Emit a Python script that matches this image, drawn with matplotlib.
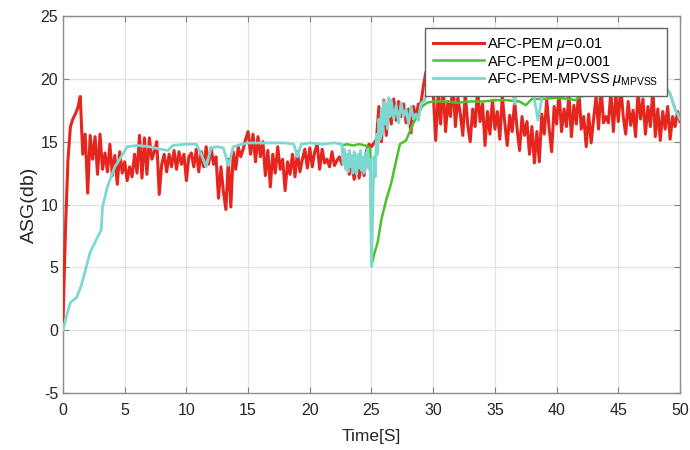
import numpy as np
import matplotlib
matplotlib.use("Agg")
import matplotlib.pyplot as plt

plt.rcParams['font.family'] = ['Liberation Sans', 'DejaVu Sans']
plt.rcParams['mathtext.fontset'] = 'custom'
plt.rcParams['mathtext.it'] = 'Liberation Sans:italic'
plt.rcParams['mathtext.rm'] = 'Liberation Sans'
plt.rcParams['axes.unicode_minus'] = False

# AFC-PEM mu=0.01, sampled every 0.2 s (5 values per second)
red_step = 0.2
red_asg = [
    0.7, 8.0, 13.5, 16.2, 16.8,
    17.2, 17.7, 18.6, 14.0, 15.6,
    10.9, 15.5, 13.6, 15.4, 12.4,
    15.6, 12.8, 14.1, 12.6, 14.8,
    12.3, 13.9, 11.6, 14.2, 12.5,
    13.4, 11.9, 13.0, 12.2, 14.0,
    12.5, 15.5, 12.1, 15.3, 12.4,
    15.3, 13.6, 14.2, 15.0, 10.8,
    13.2, 14.0, 12.6, 14.0, 13.0,
    14.3, 12.8, 14.2, 13.2, 14.0,
    11.9, 13.8, 14.1, 13.0, 14.4,
    12.6, 14.2, 13.0, 14.6, 13.2,
    14.5, 13.2, 13.8, 10.5, 13.0,
    11.0, 9.6, 13.6, 9.8, 14.2,
    12.8, 14.6, 13.8, 14.4, 15.2,
    15.8, 14.0, 15.6, 13.4, 15.4,
    13.8, 15.0, 12.3, 14.3, 11.4,
    14.0, 12.5, 14.6, 12.8, 13.6,
    11.1, 13.4, 12.4, 14.0, 12.2,
    14.2, 12.6, 13.6, 14.4, 12.9,
    14.5, 13.0, 14.2, 14.8, 12.8,
    14.4, 13.3, 13.6, 13.0, 14.2,
    13.1, 13.5, 13.8, 13.2, 13.6,
    13.5, 12.4, 13.2, 12.0, 13.6,
    12.1, 13.4, 12.3, 14.3, 14.8,
    14.6, 14.9, 15.2, 17.8, 15.0,
    18.3, 15.5, 17.9, 16.4, 18.4,
    16.7, 18.2, 17.0, 18.0, 16.5,
    17.6, 15.7, 17.8, 16.9, 18.0,
    18.0, 19.4, 20.5, 21.0, 19.5,
    19.0, 15.1, 18.8, 16.4, 19.6,
    15.8, 18.2, 17.0, 19.8, 16.2,
    18.5, 17.2, 15.5, 18.9, 16.3,
    15.0, 17.6, 16.2, 19.2, 16.6,
    18.0, 14.7, 17.4, 15.6, 18.3,
    16.0, 17.4, 15.2, 18.6, 16.5,
    14.7, 17.1, 15.8, 18.2, 16.0,
    14.3, 17.0, 15.5, 16.6, 14.0,
    16.2, 13.3, 15.8, 13.4, 17.2,
    15.6, 18.4, 16.0, 14.2, 17.8,
    16.4, 19.0, 15.8, 17.6, 16.2,
    18.8, 15.4, 17.9, 16.4, 19.2,
    16.0, 17.0, 14.6, 17.2, 14.9,
    16.8, 18.6, 16.0, 19.4, 16.5,
    17.0, 16.5, 19.0, 15.8, 18.8,
    16.6, 19.4, 17.0, 15.6, 18.2,
    16.3, 17.5, 15.4, 19.0, 16.8,
    18.4, 15.6, 17.8, 16.2, 19.2,
    15.4, 17.6, 15.1, 17.4, 16.0,
    17.8, 15.2, 17.0, 16.2, 17.4,
    16.6,
]
red_t = np.arange(len(red_asg)) * red_step

# AFC-PEM mu=0.001
green_t = [22.6, 23.0, 23.5, 24.0, 24.5, 24.9, 25.0, 25.2, 25.5, 25.8, 26.0, 26.2,
           26.6, 27.0, 27.3, 27.8, 28.1, 28.4, 28.7, 29.1, 29.5, 30.0, 31.0, 32.0,
           33.0, 34.0, 35.0, 36.0, 37.0, 37.5, 38.0, 39.0, 40.0, 41.0, 41.5, 42.0,
           43.0, 44.0, 45.0, 46.0, 47.0, 48.0, 48.7, 49.2, 49.6, 50.0]
green_asg = [14.7, 14.8, 14.7, 14.8, 14.7, 14.5, 5.1, 6.0, 7.0, 8.8, 9.6, 10.4,
             11.7, 13.5, 14.8, 15.1, 15.8, 16.5, 17.0, 17.8, 18.1, 18.2, 18.2, 18.1,
             18.2, 18.2, 18.3, 18.3, 18.2, 17.9, 18.4, 18.4, 18.5, 18.4, 18.3, 18.6,
             18.9, 19.4, 19.5, 19.6, 19.5, 19.6, 19.5, 18.8, 17.6, 16.8]

# AFC-PEM-MPVSS
cyan_t = [0.0, 0.3, 0.6, 1.1, 1.5, 2.2, 2.6, 3.1, 3.2, 3.6, 4.2, 4.6, 5.2, 6.0,
          7.0, 7.9, 8.5, 8.9, 10.0, 10.8, 11.2, 11.6, 12.0, 12.5, 13.0, 13.4,
          13.8, 14.5, 15.0, 16.0, 17.0, 18.0, 18.7, 19.0, 19.3, 20.0, 21.0, 22.0,
          22.6, 22.7, 22.8, 22.9, 23.0, 23.1, 23.2, 23.3, 23.4, 23.5, 23.6, 23.7,
          23.8, 23.9, 24.0, 24.1, 24.2, 24.3, 24.4, 24.5, 24.6, 24.7, 24.8, 24.9,
          25.0, 25.1, 25.2, 25.3, 25.4, 25.5, 25.6, 25.7, 25.8, 25.9, 26.0, 26.1,
          26.2, 26.3, 26.4, 26.5, 26.6, 26.8, 27.0, 27.2, 27.4, 27.6, 27.8, 28.0,
          28.2, 28.4, 28.6, 28.8, 29.0, 29.3, 29.6, 30.0, 31.0, 32.0, 33.0, 34.0,
          35.0, 36.0, 36.4, 36.6, 36.8, 37.5, 38.0, 38.5, 38.8, 39.2, 40.0, 41.0,
          42.0, 43.0, 44.0, 45.0, 46.0, 47.0, 48.0, 48.7, 49.2, 49.6, 50.0]
cyan_asg = [0.0, 1.2, 2.2, 2.6, 3.6, 6.2, 7.0, 8.0, 9.8, 11.4, 13.0, 13.6, 14.6, 14.7,
            14.6, 14.4, 14.3, 14.7, 14.8, 14.8, 14.0, 13.0, 14.5, 14.6, 14.5, 13.1,
            14.6, 14.8, 14.9, 14.9, 14.9, 14.9, 14.8, 13.8, 14.8, 14.9, 14.8, 14.9,
            14.8, 13.2, 14.4, 12.8, 14.0, 12.6, 14.3, 13.0, 13.9, 12.5, 14.2, 13.1,
            12.4, 14.0, 12.9, 14.3, 12.7, 13.8, 12.5, 14.1, 13.0, 14.4, 12.8, 13.6,
            5.1, 9.5, 13.8, 12.2, 15.6, 14.0, 16.8, 15.2, 17.6, 15.6, 18.2, 16.4,
            18.0, 16.0, 18.5, 17.0, 18.3, 16.8, 17.9, 16.5, 18.1, 17.0, 17.6, 16.4,
            17.8, 16.8, 17.2, 16.7, 18.0, 18.3, 19.2, 19.8, 20.0, 20.2, 20.0, 19.9,
            20.1, 20.0, 19.4, 18.0, 19.6, 20.0, 19.5, 16.7, 18.5, 19.6, 19.8, 19.6,
            19.9, 20.0, 19.9, 20.1, 20.0, 20.0, 20.1, 19.6, 18.8, 17.6, 16.8]

x_ticks = list(range(0, 51, 5))
y_ticks = list(range(-5, 26, 5))

fig = plt.figure(figsize=(6.9, 4.5), dpi=100)
ax = fig.add_axes([0.0913, 0.1267, 0.8942, 0.8377])

ax.plot(red_t, red_asg, color='#e5261f', lw=2.2, label=r'AFC-PEM $\mu$=0.01', zorder=3)
ax.plot(green_t, green_asg, color='#4cc02e', lw=1.8, label=r'AFC-PEM $\mu$=0.001', zorder=4)
ax.plot(cyan_t, cyan_asg, color='#7dd8d2', lw=2.0,
        label=r'AFC-PEM-MPVSS $\mu_{\mathrm{MPVSS}}$', zorder=5)

ax.set_xlim(0, 50)
ax.set_ylim(-5, 25)
ax.set_xticks(x_ticks)
ax.set_yticks(y_ticks)
ax.grid(True, color='#e3e3e3', lw=0.9)
ax.set_axisbelow(True)
ax.tick_params(direction='in', length=4, width=0.8, color='#808080',
               labelsize=11.5, labelcolor='#262626', top=True, right=True)
ax.tick_params(axis='x', pad=7)
for s in ax.spines.values():
    s.set_color('#8c8c8c')
    s.set_linewidth(1.0)

ax.set_xlabel('Time[S]', fontsize=12.5, color='#262626', labelpad=8)
ax.set_ylabel('ASG(db)', fontsize=14, color='#262626', labelpad=2)

leg = ax.legend(loc='upper right', bbox_to_anchor=(0.99, 0.988), fontsize=10.5,
                handlelength=3.5, handletextpad=0.25, borderpad=0.55,
                labelspacing=0.05, fancybox=False, framealpha=1.0,
                edgecolor='#606060')
leg.get_frame().set_linewidth(1.0)
leg.set_zorder(10)

fig.savefig('out.png', dpi=100)
